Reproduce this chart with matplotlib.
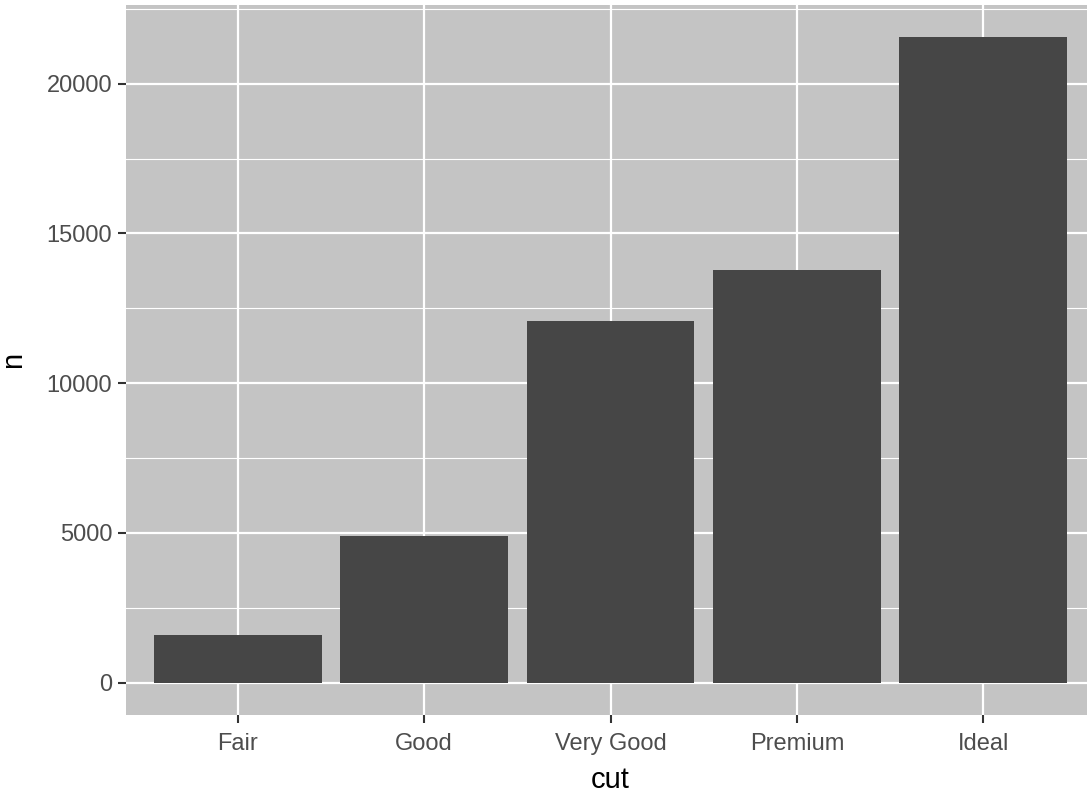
import matplotlib
matplotlib.use("Agg")
import matplotlib.pyplot as plt
from matplotlib.ticker import MultipleLocator

cut = ["Fair", "Good", "Very Good", "Premium", "Ideal"]
n = [1610, 4906, 12082, 13791, 21551]

plt.rcParams['font.family'] = ['Liberation Sans', 'DejaVu Sans']

fig = plt.figure(figsize=(10.87, 7.94), dpi=100, facecolor='white')
# panel runs slightly past the right edge, as in the reference crop
ax = fig.add_axes([126 / 1087, 1 - 715 / 794, (1095 - 126) / 1087, 710 / 794])
ax.set_facecolor('#c4c4c4')

pos = list(range(1, len(cut) + 1))
ax.bar(pos, n, width=0.9, color='#464646', zorder=3)

ax.set_xlim(0.4, 5.6)
pad = max(n) * 0.05
ax.set_ylim(-pad, max(n) + pad)

ax.set_xticks(pos)
ax.set_xticklabels(cut)
ax.yaxis.set_major_locator(MultipleLocator(5000))
ax.yaxis.set_minor_locator(MultipleLocator(2500))

ax.grid(which='major', color='white', linewidth=1.6, zorder=0)
ax.grid(which='minor', axis='y', color='white', linewidth=0.8, zorder=0)
ax.set_axisbelow(True)

for s in ax.spines.values():
    s.set_visible(False)

ax.tick_params(which='major', length=6, width=1.5, color='#333333',
               labelcolor='#4d4d4d', labelsize=17, pad=4)
ax.tick_params(axis='x', which='major', pad=7)
ax.tick_params(which='minor', length=0)

ax.set_xlabel('cut', fontsize=21, color='black', labelpad=8)
ax.set_ylabel('n', fontsize=21, color='black', labelpad=14)

fig.savefig('out.png', dpi=100)
